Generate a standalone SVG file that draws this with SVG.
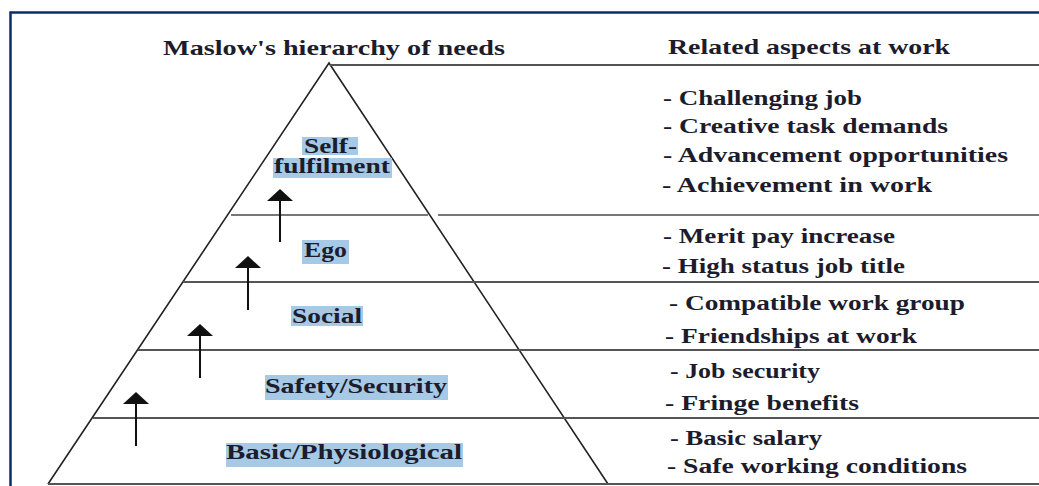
<svg xmlns="http://www.w3.org/2000/svg" width="1039" height="486" viewBox="0 0 1039 486">
<style>
.t{font-family:"Liberation Serif","Times New Roman",serif;font-weight:bold;fill:#1c1c2c}
.title{font-size:21px}
.item{font-size:20px}
.lab{font-size:20px}
.hl{fill:#a6c9e6}
.rule{stroke:#555;stroke-width:2;fill:none}
.side{stroke:#222;stroke-width:1.6;fill:none}
.frame{stroke:#0d2b6b;stroke-width:2.5;fill:none}
.shaft{stroke:#111;stroke-width:2}
.head{fill:#111}
</style>
<rect x="0" y="0" width="1039" height="486" fill="#fff"/>
<path class="frame" d="M10.5 486 V12.5 H1039"/>
<g id="headers">
<text class="t title" x="163" y="55" textLength="342" lengthAdjust="spacingAndGlyphs">Maslow's hierarchy of needs</text>
<text class="t title" x="668" y="54" textLength="282" lengthAdjust="spacingAndGlyphs">Related aspects at work</text>
</g>
<g id="pyramid">
<polyline class="side" points="48,484 329,63 608,484"/>
</g>
<g id="connectors">
<line class="rule" x1="330" y1="65" x2="1039" y2="65"/>
<line class="rule" x1="231" y1="215" x2="428" y2="215" style="stroke:#777"/>
<line class="rule" x1="438" y1="215" x2="1039" y2="215" style="stroke:#777"/>
<line class="rule" x1="183" y1="282" x2="1039" y2="282"/>
<line class="rule" x1="138" y1="350" x2="1039" y2="350"/>
<line class="rule" x1="93" y1="418" x2="1039" y2="418"/>
<line class="rule" x1="48" y1="484" x2="1039" y2="484"/>
<line class="shaft" x1="280" y1="200" x2="280" y2="242"/>
<polygon class="head" points="267,201 280,189 293,201"/>
<line class="shaft" x1="248" y1="267" x2="248" y2="310"/>
<polygon class="head" points="235,268 248,256 261,268"/>
<line class="shaft" x1="200" y1="335" x2="200" y2="378"/>
<polygon class="head" points="187,336 200,324 213,336"/>
<line class="shaft" x1="136" y1="403" x2="136" y2="446"/>
<polygon class="head" points="123,404 136,392 149,404"/>
</g>
<g id="self-fulfilment">
<rect class="hl" x="302" y="137" width="56" height="18"/>
<rect class="hl" x="273" y="158" width="119" height="20"/>
<text class="t lab" x="304" y="153" textLength="53" lengthAdjust="spacingAndGlyphs">Self-</text>
<text class="t lab" x="274" y="173" textLength="116" lengthAdjust="spacingAndGlyphs">fulfilment</text>
</g>
<g id="ego">
<rect class="hl" x="302" y="240" width="47" height="24"/>
<text class="t lab" x="304" y="257" textLength="43" lengthAdjust="spacingAndGlyphs">Ego</text>
</g>
<g id="social">
<rect class="hl" x="291" y="306" width="72" height="20"/>
<text class="t lab" x="292" y="323" textLength="70" lengthAdjust="spacingAndGlyphs">Social</text>
</g>
<g id="safety">
<rect class="hl" x="265" y="375" width="183" height="25"/>
<text class="t lab" x="265" y="393" textLength="182" lengthAdjust="spacingAndGlyphs">Safety/Security</text>
</g>
<g id="basic">
<rect class="hl" x="226" y="443" width="237" height="24"/>
<text class="t lab" x="226" y="459" textLength="236" lengthAdjust="spacingAndGlyphs">Basic/Physiological</text>
</g>
<g id="aspects">
<text class="t item" x="663" y="105" textLength="199" lengthAdjust="spacingAndGlyphs">- Challenging job</text>
<text class="t item" x="663" y="133" textLength="285" lengthAdjust="spacingAndGlyphs">- Creative task demands</text>
<text class="t item" x="663" y="162" textLength="345" lengthAdjust="spacingAndGlyphs">- Advancement opportunities</text>
<text class="t item" x="662" y="192" textLength="270" lengthAdjust="spacingAndGlyphs">- Achievement in work</text>
<text class="t item" x="663" y="243" textLength="232" lengthAdjust="spacingAndGlyphs">- Merit pay increase</text>
<text class="t item" x="662" y="273" textLength="243" lengthAdjust="spacingAndGlyphs">- High status job title</text>
<text class="t item" x="669" y="310" textLength="296" lengthAdjust="spacingAndGlyphs">- Compatible work group</text>
<text class="t item" x="665" y="343" textLength="252" lengthAdjust="spacingAndGlyphs">- Friendships at work</text>
<text class="t item" x="670" y="378" textLength="150" lengthAdjust="spacingAndGlyphs">- Job security</text>
<text class="t item" x="665" y="410" textLength="194" lengthAdjust="spacingAndGlyphs">- Fringe benefits</text>
<text class="t item" x="670" y="445" textLength="152" lengthAdjust="spacingAndGlyphs">- Basic salary</text>
<text class="t item" x="667" y="473" textLength="300" lengthAdjust="spacingAndGlyphs">- Safe working conditions</text>
</g>
</svg>
